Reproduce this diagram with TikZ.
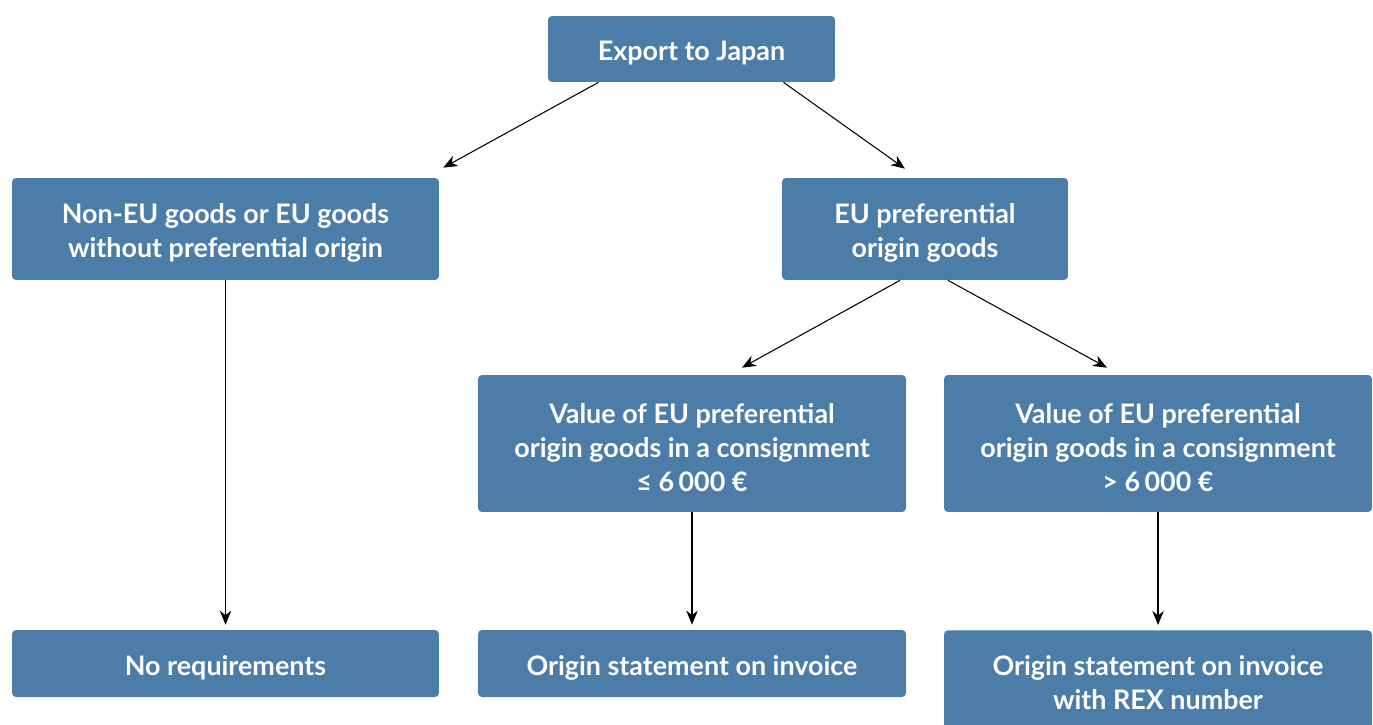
\documentclass[tikz,border=0pt]{standalone}
\usepackage{fontspec}
\setmainfont{Lato}[BoldFont={Lato Bold}]
\usetikzlibrary{arrows.meta,calc}
\definecolor{boxblue}{RGB}{75,125,168}
\tikzset{
  stepbox/.style={fill=boxblue, rounded corners=0.08cm, inner sep=0pt, anchor=center},
  steptext/.style={text=white, font=\bfseries\fontsize{15.3}{19.3}\selectfont, align=center, inner sep=0pt, anchor=center},
  conn/.style={draw=black, line width=0.6pt, -{Stealth[length=8pt,width=6.5pt]}}
}
\begin{document}
\begin{tikzpicture}[x=0.02cm,y=-0.02cm]
\useasboundingbox (0,0) rectangle (1373,724);
\begin{scope}
\clip (0,0) rectangle (1373,724);
\node[stepbox, minimum width=5.74cm, minimum height=1.32cm] (top) at (691.5,49) {};
\node[stepbox, minimum width=8.54cm, minimum height=2.04cm] (left) at (225.5,229) {};
\node[stepbox, minimum width=5.72cm, minimum height=2.04cm] (eu) at (925,229) {};
\node[stepbox, minimum width=8.56cm, minimum height=2.74cm] (v1) at (692,443.5) {};
\node[stepbox, minimum width=8.56cm, minimum height=2.74cm] (v2) at (1158,443.5) {};
\node[stepbox, minimum width=8.54cm, minimum height=1.34cm] (no) at (225.5,663.5) {};
\node[stepbox, minimum width=8.56cm, minimum height=1.34cm] (os) at (692,663.5) {};
\node[stepbox, minimum width=8.56cm, minimum height=2.2cm, anchor=north] (rex) at (1158,630) {};
\end{scope}
\node[steptext] (topt) at ($(top.center)+(0,4)$) {Export to Japan};
\node[steptext] (leftt) at ($(left.center)+(0,4)$) {Non-EU goods or EU goods\\without preferential origin};
\node[steptext] (eut) at ($(eu.center)+(0,4)$) {EU preferential\\origin goods};
\node[steptext] (v1t) at ($(v1.center)+(0,4)$) {Value of EU preferential\\origin goods in a consignment\\≤ 6\,000 €};
\node[steptext] (v2t) at ($(v2.center)+(0,4)$) {Value of EU preferential\\origin goods in a consignment\\> 6\,000 €};
\node[steptext] (not) at ($(no.center)+(0,4)$) {No requirements};
\node[steptext] (ost) at ($(os.center)+(0,4)$) {Origin statement on invoice};
\node[steptext] (rext) at (1158,683) {Origin statement on invoice\\with REX number};
\draw[conn] ($(top.south)+(-93,0)$) -- ($(left.north east)+(4,-10)$);
\draw[conn] ($(top.south)+(92,0)$) -- ($(eu.north)+(-20,-9)$);
\draw[conn] ($(eu.south)+(-25,0)$) -- ($(v1.north)+(50,-7)$);
\draw[conn] ($(eu.south)+(23,0)$) -- ($(v2.north)+(-51,-7)$);
\draw[conn] (left.south) -- ($(no.north)+(0,-5)$);
\draw[conn] (v1.south) -- ($(os.north)+(0,-5)$);
\draw[conn] (v2.south) -- ($(rex.north)+(0,-5)$);
\end{tikzpicture}
\end{document}
